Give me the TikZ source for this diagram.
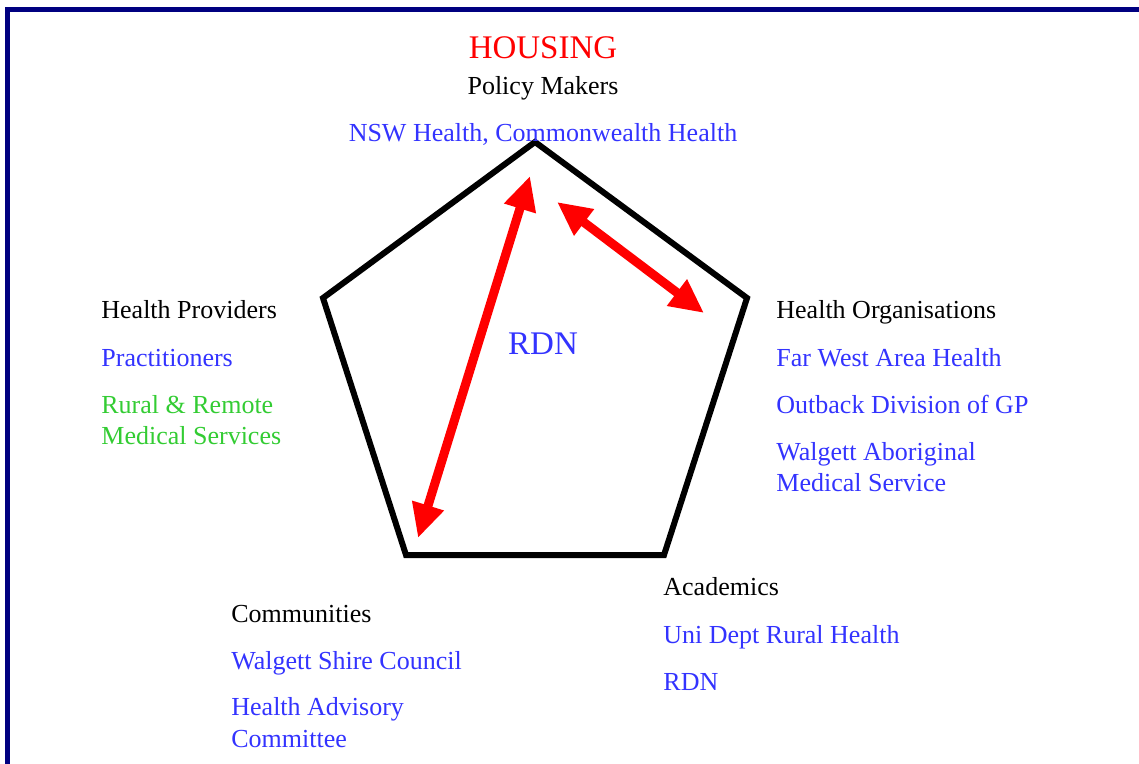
\documentclass[tikz,border=0pt]{standalone}
\usepackage{fontspec}
\setmainfont{Liberation Serif}
\usetikzlibrary{arrows.meta}
\definecolor{MyNavy}{RGB}{0,0,128}
\definecolor{MyBlue}{RGB}{51,51,255}
\definecolor{MyGreen}{RGB}{51,204,51}

\begin{document}
\begin{tikzpicture}[x=0.5pt,y=-0.5pt,
    lbl/.style={anchor=base west,inner sep=0pt,font=\fontsize{13}{15}\selectfont},
    head/.style={anchor=base,inner sep=0pt,font=\fontsize{13}{15}\selectfont},
    big/.style={anchor=base,inner sep=0pt,font=\fontsize{16.5}{19}\selectfont},
    link/.style={red,line width=4.5pt,{Triangle[width=15.5pt,length=17pt]}-{Triangle[width=15.5pt,length=17pt]}}]
    \useasboundingbox (0,0) rectangle (1139,764);
    \clip (0,0) rectangle (1139,764);
    \draw[MyNavy,line width=2.5pt] (7.5,9.5) rectangle (1141,800);
    % pentagon
    \coordinate (ptop) at (535,142);
    \coordinate (pright) at (747,298);
    \coordinate (plowright) at (664,555);
    \coordinate (plowleft) at (406,555);
    \coordinate (pleft) at (323,298);
    \draw[line width=3pt,line join=miter] (ptop) -- (pright) -- (plowright) -- (plowleft) -- (pleft) -- cycle;
    % arrows
    \coordinate (aone) at (418,538);
    \coordinate (atwo) at (530,176);
    \coordinate (athree) at (557,202);
    \coordinate (afour) at (704,313);
    \draw[link] (aone) -- (atwo);
    \draw[link] (athree) -- (afour);
    % top
    \node[big,red] (housing) at (543,59) {HOUSING};
    \node[head] (policy) at (543,95) {Policy Makers};
    \node[head,MyBlue] (nsw) at (543,142) {NSW Health, Commonwealth Health};
    \node[big,MyBlue] (rdn) at (543,354) {RDN};
    % left
    \node[lbl] (providers) at (101,319) {Health Providers};
    \node[lbl,MyBlue] (pract) at (101,366) {Practitioners};
    \node[lbl,MyGreen] (rural) at (101,413) {Rural \& Remote};
    \node[lbl,MyGreen] (medical) at (101,444) {Medical Services};
    % right
    \node[lbl] (orgs) at (776,319) {Health Organisations};
    \node[lbl,MyBlue] (farwest) at (776,366) {Far West Area Health};
    \node[lbl,MyBlue] (outback) at (776,413) {Outback Division of GP};
    \node[lbl,MyBlue] (walgett) at (776,460) {Walgett Aboriginal};
    \node[lbl,MyBlue] (medserv) at (776,491) {Medical Service};
    % bottom right
    \node[lbl] (acad) at (663,595) {Academics};
    \node[lbl,MyBlue] (uni) at (663,643) {Uni Dept Rural Health};
    \node[lbl,MyBlue] (rdntwo) at (663,690) {RDN};
    % bottom left
    \node[lbl] (comm) at (231,622) {Communities};
    \node[lbl,MyBlue] (shire) at (231,669) {Walgett Shire Council};
    \node[lbl,MyBlue] (advisory) at (231,715) {Health Advisory};
    \node[lbl,MyBlue] (committee) at (231,747) {Committee};
\end{tikzpicture}
\end{document}
